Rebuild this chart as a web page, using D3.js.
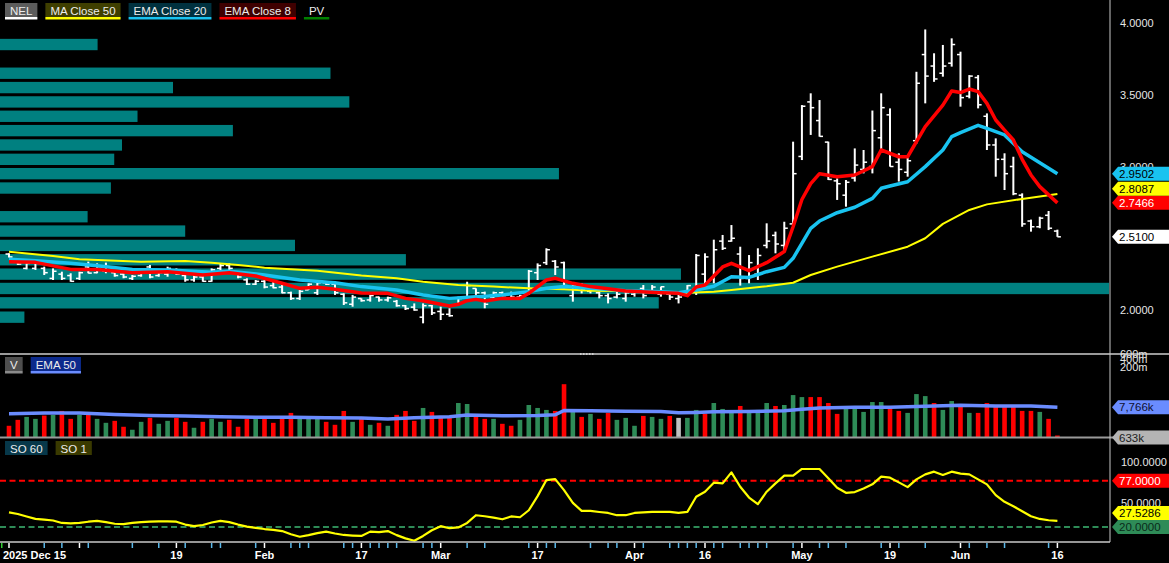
<!DOCTYPE html>
<html>
<head>
<meta charset="utf-8">
<script src="https://cdn.jsdelivr.net/npm/d3@7"></script>
<style>
  html, body { margin: 0; padding: 0; background: #000; }
  svg { display: block; font-family: "Liberation Sans", Arial, sans-serif; }
  .pre { white-space: pre; }
</style>
</head>
<body>
<div id="chart"></div>
<script>
/* DATA (one entry per session, index 0 = 2025 Dec 15) */
const opens = [2.39,2.34,2.29,2.29,2.29,2.22,2.25,2.24,2.22,2.30,
  2.26,2.27,2.26,2.25,2.22,2.24,2.30,2.24,2.25,2.28,
  2.24,2.21,2.23,2.20,2.29,2.31,2.25,2.21,2.18,2.20,
  2.17,2.16,2.12,2.08,2.14,2.12,2.19,2.18,2.11,2.04,
  2.08,2.07,2.09,2.07,2.06,2.03,2.02,1.95,2.03,1.99,
  1.97,2.04,2.09,2.15,2.12,2.09,2.12,2.11,2.09,2.11,
  2.26,2.33,2.34,2.33,2.10,2.17,2.13,2.12,2.10,2.09,
  2.08,2.11,2.15,2.12,2.11,2.11,2.08,2.11,2.15,2.25,
  2.22,2.48,2.48,2.39,2.22,2.25,2.45,2.52,2.45,2.60,
  3.07,3.45,3.32,3.17,2.90,2.80,2.92,2.98,3.00,3.20,
  3.36,3.03,2.96,3.18,3.78,3.70,3.65,3.72,3.78,3.49,
  3.62,3.35,3.15,3.05,3.00,2.80,2.62,2.58,2.66,2.55]
const highs = [2.395,2.348,2.325,2.337,2.302,2.290,2.267,2.256,2.267,2.337,
  2.325,2.330,2.267,2.256,2.244,2.267,2.314,2.267,2.302,2.290,
  2.244,2.244,2.244,2.290,2.325,2.325,2.256,2.221,2.209,2.209,
  2.197,2.174,2.128,2.139,2.186,2.209,2.197,2.197,2.116,2.105,
  2.081,2.105,2.093,2.093,2.070,2.035,2.046,2.046,2.035,2.023,
  2.012,2.093,2.197,2.151,2.128,2.128,2.128,2.128,2.105,2.279,
  2.325,2.430,2.348,2.337,2.180,2.186,2.163,2.128,2.116,2.128,
  2.128,2.139,2.174,2.174,2.163,2.116,2.105,2.174,2.390,2.395,
  2.490,2.523,2.592,2.441,2.383,2.430,2.604,2.546,2.615,3.173,
  3.428,3.510,3.463,3.173,2.917,2.906,3.126,3.115,3.390,3.510,
  3.405,3.092,3.068,3.660,3.955,3.789,3.847,3.893,3.800,3.637,
  3.637,3.370,3.196,3.092,3.068,2.813,2.630,2.650,2.690,2.560]
const lows = [2.365,2.314,2.283,2.279,2.244,2.209,2.209,2.197,2.209,2.256,
  2.256,2.256,2.232,2.221,2.209,2.232,2.221,2.232,2.232,2.244,
  2.197,2.197,2.197,2.197,2.279,2.279,2.221,2.174,2.174,2.151,
  2.151,2.116,2.070,2.070,2.139,2.105,2.174,2.105,2.035,2.023,
  2.058,2.058,2.058,2.058,2.023,2.000,1.995,1.907,1.965,1.930,
  1.953,2.035,2.081,2.105,2.012,2.081,2.093,2.081,2.081,2.105,
  2.209,2.314,2.244,2.151,2.058,2.116,2.116,2.081,2.046,2.081,
  2.058,2.093,2.081,2.116,2.093,2.070,2.046,2.105,2.105,2.160,
  2.186,2.418,2.476,2.170,2.186,2.209,2.430,2.395,2.418,2.580,
  3.045,3.220,3.208,2.906,2.767,2.720,2.895,2.952,2.952,3.115,
  2.999,2.895,2.929,3.160,3.440,3.590,3.626,3.696,3.417,3.475,
  3.405,3.115,2.929,2.836,2.800,2.580,2.546,2.570,2.557,2.510]
const closes = [2.37,2.32,2.325,2.33,2.26,2.27,2.22,2.20,2.26,2.257,
  2.29,2.30,2.24,2.23,2.235,2.26,2.23,2.26,2.29,2.25,
  2.21,2.23,2.20,2.28,2.31,2.29,2.23,2.18,2.20,2.16,
  2.155,2.12,2.08,2.13,2.18,2.19,2.18,2.12,2.05,2.09,
  2.065,2.10,2.07,2.085,2.03,2.01,2.00,2.03,1.98,1.97,
  1.96,2.08,2.17,2.12,2.04,2.12,2.10,2.09,2.10,2.27,
  2.31,2.42,2.30,2.17,2.175,2.14,2.15,2.10,2.08,2.11,
  2.12,2.13,2.10,2.16,2.162,2.09,2.09,2.17,2.38,2.37,
  2.42,2.43,2.50,2.22,2.33,2.38,2.48,2.46,2.57,2.95,
  3.42,3.41,3.21,2.91,2.88,2.89,3.01,3.03,3.25,3.41,
  3.00,2.98,3.04,3.58,3.63,3.61,3.70,3.85,3.48,3.63,
  3.43,3.15,3.05,2.95,2.81,2.60,2.58,2.64,2.57,2.51]

// volume, millions of shares
const volumes = [3.09,4.59,5.34,4.84,5.68,5.85,6.85,4.84,5.85,5.85,
  4.84,3.84,4.34,2.84,2.09,4.09,5.09,3.59,4.34,5.09,
  4.09,2.59,4.09,4.84,4.09,4.59,2.84,4.84,5.09,5.09,
  3.84,4.84,6.35,4.84,4.84,4.84,4.09,3.34,6.85,4.09,
  4.84,3.34,3.84,3.09,5.85,6.85,4.34,7.60,6.60,5.09,
  5.09,8.85,8.60,5.34,4.84,4.84,3.59,3.09,4.59,8.35,
  7.60,7.10,6.85,13.61,6.68,5.34,6.10,4.84,6.35,4.59,
  5.09,3.09,5.59,5.34,4.84,5.59,5.09,5.09,7.10,6.10,
  8.85,7.35,6.35,8.10,6.35,7.10,8.85,8.10,8.35,10.86,
  10.35,10.35,10.35,8.85,6.10,7.60,7.60,6.60,9.10,9.10,
  7.60,6.85,6.35,11.11,10.60,8.85,7.10,9.35,8.10,6.35,
  6.35,8.85,8.10,8.10,8.10,6.85,6.85,6.60,4.84,0.633]

// stochastic oscillator
const soValues = [38,36,33,30,29,28,25,24.5,25,26.5,
  27.5,26,24,23.5,25,26,26.5,27,27,26.5,
  23,21,22.5,25.5,27.5,26,23,20.4,19,17.5,
  16.5,15,11,8,10,12.5,14.3,12,10.2,9.5,
  9,14.3,13.8,15,10,6,3,9,16,21,
  18.5,19.5,25,34.5,33.2,31.5,29.5,33,32,40.6,
  58,77.8,79,65.4,49.7,39.8,39.8,38.5,37.3,34.5,
  34.5,37.3,38,38.6,38.6,38.6,37.3,38.6,57.2,63.4,
  74.5,73.7,87.3,69.6,56.3,48.1,63.4,73.7,83.2,83.2,
  91.4,91.4,91.4,79.9,68.3,62.1,63,67.5,72.5,82,
  80.7,74.9,69.1,78.6,84.8,88.1,84,88.1,85.7,84.8,
  78.6,72.5,59.2,51,45.6,39.4,33.2,29.9,28.3,27.5286]

// moving averages at these sessions
const ma50Idx = [0,5,8,15,20,23,26,29,35,40,44,47,51,55,59,63,66,70,74,77,80,82,86,89,91,94,98,102,104,106,109,111,115,119]
const ma50Val = [2.406,2.376,2.353,2.337,2.341,2.330,2.314,2.295,2.274,2.240,2.221,2.197,2.174,2.163,2.151,2.144,2.135,2.132,2.128,2.120,2.128,2.139,2.165,2.19,2.244,2.302,2.372,2.441,2.50,2.60,2.697,2.736,2.774,2.8087]
const ema20Idx = [0,3,7,10,14,18,23,25,29,33,37,40,44,47,50,53,56,59,61,63,66,70,74,76,78,80,82,84,86,88,89,90,91,92,94,96,98,99,100,102,104,106,107,108,110,111,113,115,119]
const ema20Val = [2.353,2.344,2.325,2.309,2.283,2.279,2.263,2.27,2.244,2.209,2.19,2.163,2.139,2.105,2.081,2.093,2.105,2.128,2.151,2.163,2.151,2.135,2.128,2.121,2.139,2.165,2.232,2.227,2.267,2.297,2.36,2.465,2.569,2.62,2.678,2.716,2.778,2.848,2.864,2.894,2.999,3.115,3.208,3.236,3.287,3.266,3.22,3.103,2.9502]
const ema8Idx = [0,3,7,10,14,18,22,25,28,31,33,35,37,40,43,45,47,50,51,52,53,54,56,58,59,61,62,64,66,70,74,76,77,78,79,81,82,84,86,88,89,90,91,92,94,96,98,99,101,102,104,106,107,108,109,110,111,112,113,114,115,116,117,119]
const ema8Val = [2.337,2.332,2.283,2.283,2.26,2.267,2.244,2.26,2.237,2.186,2.151,2.158,2.144,2.118,2.116,2.081,2.065,2.028,2.04,2.065,2.074,2.063,2.081,2.081,2.116,2.209,2.221,2.186,2.163,2.132,2.121,2.116,2.10,2.16,2.174,2.30,2.325,2.274,2.33,2.407,2.58,2.77,2.88,2.95,2.929,2.941,2.999,3.115,3.068,3.068,3.278,3.428,3.526,3.515,3.54,3.522,3.44,3.324,3.254,3.185,3.05,2.941,2.86,2.7466]
const volEmaIdx = [0,4,8,12,16,20,24,28,32,36,40,43,46,50,52,56,60,62,63,66,70,74,76,78,80,84,88,90,92,96,100,104,108,112,116,119]
const volEmaVal = [6.13,6.30,6.30,5.97,5.72,5.56,5.40,5.23,5.23,5.15,5.07,4.82,5.15,5.40,5.80,5.64,5.72,5.89,6.95,6.87,6.79,6.70,6.38,6.46,6.62,6.70,6.87,7.28,7.60,7.77,7.77,8.01,8.26,8.09,8.09,7.766]

// price-volume histogram, 0.1 wide bins (relative volume, max = 100)
const pvStep = 0.1
const pvLow = [1.9,2.0,2.1,2.2,2.3,2.4,2.5,2.6,2.7,2.8,2.9,3.0,3.1,3.2,3.3,3.4,3.5,3.6,3.7,3.8]
const pvVol = [2.2,59.4,100,61.4,36.6,26.6,16.7,7.9,0,10.0,50.4,10.3,11.0,21.0,12.4,31.5,15.6,29.8,0,8.8]

// axes
const priceTicks = [2, 2.5, 3, 3.5, 4]
const soTicks = [50, 100]
const soLevels = [77, 20]
const volTicks = [600, 400, 200]
const majorTicks = [0,8,19,29,40,49,60,71,79,90,100,108,119]
const minorTicks = [4,6,9,14,17,20,23,24,28,32,33,34,38,39,41,42,43,44,47,48,52,54,59,61,62,66,68,69,72,75,76,77,78,80,81,83,84,85,86,89,92,93,95,99,101,104,109,111,113,118]
const dateLabelIdx = [0,19,29,40,49,60,71,79,90,100,108,119]
const dateLabels = ["2025 Dec 15","19","Feb","17","Mar","17","Apr","16","May","19","Jun","16"]

// legends
const priceLegend = ["NEL", "MA Close 50", "EMA Close 20", "EMA Close 8", "PV"]
const volLegend = ["V", "EMA 50"]
const soLegend = ["SO 60", "SO 1"]

/* CONSTANTS */
const width = 1169
const height = 563
const plotRight = 1110
const colors = { ma50: "#ffff00", ema20: "#19c3f0", ema8: "#ff0000", up: "#2e8b57", down: "#ff0000", flat: "#c0c0c0", volEma: "#6a8cff", pv: "#008080" }

/* SCALES */
const xScale = d3.scaleLinear().domain([0, closes.length - 1]).range([9, 1057.4])
const yPrice = d3.scaleLinear().domain([2, 4]).range([310, 23])
const yVol = d3.scaleLinear().domain([0, 7.766]).range([438, 407.3])
const yVolLbl = d3.scaleLog().domain([200, 600]).range([367, 354])
const ySO = d3.scaleLinear().domain([20, 100]).range([527, 462])
const xPV = d3.scaleLinear().domain([0, 100]).range([0, 1109])

const svg = d3.select("#chart").append("svg")
  .attr("width", width)
  .attr("height", height)

svg.append("rect").attr("width", width).attr("height", height).attr("fill", "#000")

svg.append("clipPath").attr("id", "pricePanel")
  .append("rect").attr("x", 0).attr("y", 0).attr("width", plotRight).attr("height", 353)

/* PRICE PANEL */
const pricePanel = svg.append("g").attr("clip-path", "url(#pricePanel)")

const pvData = pvLow.map((lo, i) => ({ lo, v: pvVol[i] })).filter(d => d.v > 0)
pricePanel.append("g").selectAll("rect")
  .data(pvData)
  .join("rect")
    .attr("x", 0)
    .attr("y", d => yPrice(d.lo + pvStep) + 1.5)
    .attr("width", d => xPV(d.v))
    .attr("height", d => yPrice(d.lo) - yPrice(d.lo + pvStep) - 3)
    .attr("fill", colors.pv)

const bars = closes.map((c, i) => ({ i, o: opens[i], h: highs[i], l: lows[i], c }))
const ohlc = pricePanel.append("g").attr("stroke", "#fff")
ohlc.selectAll(".hl").data(bars).join("line")
  .attr("x1", d => xScale(d.i)).attr("x2", d => xScale(d.i))
  .attr("y1", d => yPrice(d.h)).attr("y2", d => yPrice(d.l))
  .attr("stroke-width", 2)
ohlc.selectAll(".op").data(bars).join("line")
  .attr("x1", d => xScale(d.i) - 3.5).attr("x2", d => xScale(d.i))
  .attr("y1", d => yPrice(d.o)).attr("y2", d => yPrice(d.o))
  .attr("stroke-width", 1.5)
ohlc.selectAll(".cl").data(bars).join("line")
  .attr("x1", d => xScale(d.i)).attr("x2", d => xScale(d.i) + 3.5)
  .attr("y1", d => yPrice(d.c)).attr("y2", d => yPrice(d.c))
  .attr("stroke-width", 1.5)

const priceLine = d3.line().x(d => xScale(d[0])).y(d => yPrice(d[1]))
const maSeries = [
  { pts: ma50Idx.map((d, i) => [d, ma50Val[i]]), color: colors.ma50, w: 2 },
  { pts: ema20Idx.map((d, i) => [d, ema20Val[i]]), color: colors.ema20, w: 3.5 },
  { pts: ema8Idx.map((d, i) => [d, ema8Val[i]]), color: colors.ema8, w: 3.5 }
]
pricePanel.selectAll(".ma").data(maSeries).join("path")
  .attr("d", d => priceLine(d.pts))
  .attr("fill", "none")
  .attr("stroke", d => d.color)
  .attr("stroke-width", d => d.w)
  .attr("stroke-linejoin", "round")

/* VOLUME PANEL */
svg.append("g").selectAll("rect")
  .data(volumes)
  .join("rect")
    .attr("x", (d, i) => xScale(i) - 2.3)
    .attr("y", d => yVol(d))
    .attr("width", 4.6)
    .attr("height", d => yVol(0) - yVol(d))
    .attr("fill", (d, i) => i === 0 || closes[i] < closes[i - 1] ? colors.down : closes[i] > closes[i - 1] ? colors.up : colors.flat)

const volLine = d3.line().x(d => xScale(d[0])).y(d => yVol(d[1]))
svg.append("path")
  .attr("d", volLine(volEmaIdx.map((d, i) => [d, volEmaVal[i]])))
  .attr("fill", "none")
  .attr("stroke", colors.volEma)
  .attr("stroke-width", 3.5)

/* SO PANEL */
svg.append("g").selectAll("line")
  .data(soLevels)
  .join("line")
    .attr("x1", 0).attr("x2", plotRight)
    .attr("y1", d => ySO(d)).attr("y2", d => ySO(d))
    .attr("stroke", d => d > 50 ? "#ff0000" : colors.up)
    .attr("stroke-width", 2)
    .attr("stroke-dasharray", "6,3.5")

const soLine = d3.line().x((d, i) => xScale(i)).y(d => ySO(d))
svg.append("path")
  .attr("d", soLine(soValues))
  .attr("fill", "none")
  .attr("stroke", colors.ma50)
  .attr("stroke-width", 2.2)
  .attr("stroke-linejoin", "round")

/* FRAME */
svg.append("line").attr("x1", 0).attr("x2", width).attr("y1", 354).attr("y2", 354).attr("stroke", "#9a9a9a").attr("stroke-width", 2)
svg.append("line").attr("x1", 0).attr("x2", width).attr("y1", 437.5).attr("y2", 437.5).attr("stroke", "#9a9a9a").attr("stroke-width", 2)
svg.append("line").attr("x1", 580).attr("x2", 594).attr("y1", 354).attr("y2", 354).attr("stroke", "#e0e0e0").attr("stroke-width", 1.5).attr("stroke-dasharray", "1.5,1.5")
svg.append("line").attr("x1", 0).attr("x2", plotRight).attr("y1", 542).attr("y2", 542).attr("stroke", "#c8c8c8").attr("stroke-width", 1.5)
svg.append("line").attr("x1", plotRight).attr("x2", plotRight).attr("y1", 0).attr("y2", 542).attr("stroke", "#c8c8c8").attr("stroke-width", 1)

/* RIGHT AXES */
function styleAxis(g) {
  g.select(".domain").remove()
  g.selectAll("text").attr("fill", "#e6e6e6").style("font-size", "11px").style("font-family", "Liberation Sans, Arial, sans-serif")
}
svg.append("g").attr("transform", `translate(${plotRight},0)`)
  .call(d3.axisRight(yPrice).tickValues(priceTicks).tickFormat(d3.format(".4f")).tickSize(0).tickPadding(10))
  .call(styleAxis)
svg.append("g").attr("transform", `translate(${plotRight},0)`)
  .call(d3.axisRight(yVolLbl).tickValues(volTicks).tickFormat(d => d + "m").tickSize(0).tickPadding(10))
  .call(styleAxis)
svg.append("g").attr("transform", `translate(${plotRight},0)`)
  .call(d3.axisRight(ySO).tickValues(soTicks).tickFormat(d3.format(".4f")).tickSize(0).tickPadding(11))
  .call(styleAxis)

/* VALUE TAGS */
function drawTags(tags) {
  tags.sort((a, b) => b.y - a.y)
  let prev = Infinity
  tags.forEach(t => { t.y = Math.min(t.y, prev - 14); prev = t.y })
  const g = svg.append("g").selectAll("g")
    .data(tags)
    .join("g")
      .attr("transform", d => `translate(${plotRight + 2},${d.y})`)
  g.append("path").attr("d", "M0,0L6,-7H60V7H6Z").attr("fill", d => d.fill)
  g.append("text")
    .attr("x", 7).attr("dy", "0.36em")
    .attr("fill", d => d.color)
    .style("font-size", "11.5px")
    .text(d => d.text)
}
const last = arr => arr[arr.length - 1]
const f4 = d3.format(".4f")
const fk = v => d3.format(",")(Math.round(v * 1000)) + "k"
drawTags([
  { y: yPrice(last(ema20Val)), text: f4(last(ema20Val)), fill: colors.ema20, color: "#000" },
  { y: yPrice(last(ma50Val)), text: f4(last(ma50Val)), fill: colors.ma50, color: "#000" },
  { y: yPrice(last(ema8Val)), text: f4(last(ema8Val)), fill: colors.ema8, color: "#fff" },
  { y: yPrice(last(closes)), text: f4(last(closes)), fill: "#fff", color: "#000" }
])
drawTags([
  { y: yVol(last(volEmaVal)), text: fk(last(volEmaVal)), fill: colors.volEma, color: "#101030" },
  { y: yVol(last(volumes)) + 2, text: fk(last(volumes)), fill: "#b4b4b4", color: "#202020" }
])
drawTags([
  { y: ySO(soLevels[0]), text: f4(soLevels[0]), fill: "#ff0000", color: "#fff" },
  { y: ySO(last(soValues)), text: f4(last(soValues)), fill: colors.ma50, color: "#000" },
  { y: ySO(soLevels[1]), text: f4(soLevels[1]), fill: colors.up, color: "#0a2a1a" }
])

/* BOTTOM AXIS */
const xAxisG = svg.append("g")
xAxisG.selectAll(".minor").data(minorTicks).join("line")
  .attr("x1", d => xScale(d)).attr("x2", d => xScale(d))
  .attr("y1", 543).attr("y2", 548)
  .attr("stroke", "#5ab8ea").attr("stroke-width", 1.5)
xAxisG.selectAll(".major").data(majorTicks).join("line")
  .attr("x1", d => xScale(d)).attr("x2", d => xScale(d))
  .attr("y1", 543).attr("y2", 548)
  .attr("stroke", "#fff").attr("stroke-width", 1.5)
xAxisG.append("rect").attr("x", 1).attr("y", 543).attr("width", 1.5).attr("height", 5).attr("fill", "#3c3")
xAxisG.selectAll("text").data(dateLabelIdx).join("text")
  .attr("x", (d, i) => i === 0 ? 3 : xScale(d))
  .attr("y", 559)
  .attr("text-anchor", (d, i) => i === 0 ? "start" : "middle")
  .attr("fill", "#fff")
  .style("font-size", "11px")
  .style("font-weight", "bold")
  .text((d, i) => dateLabels[i])

/* LEGENDS */
function drawLegend(y, labels, fills, lines) {
  const g = svg.append("g")
  let x = 5
  labels.forEach((lab, i) => {
    const t = g.append("text")
      .attr("class", "pre")
      .attr("x", x + 5).attr("y", y + 11.5)
      .attr("fill", "#ececec")
      .style("font-size", "11.5px")
      .text(lab)
    const w = t.node().getComputedTextLength() + 10
    if (fills[i] !== "none") g.insert("rect", "text").attr("x", x).attr("y", y).attr("width", w).attr("height", 14).attr("fill", fills[i])
    if (lines[i] !== "none") g.append("rect").attr("x", x).attr("y", y + 14).attr("width", w).attr("height", 2.5).attr("fill", lines[i])
    x += w + 8
  })
}
drawLegend(3, priceLegend, ["#5c5c5c", "#3f3f00", "#00313f", "#3f0000", "none"], ["#fff", colors.ma50, colors.ema20, colors.ema8, "#008000"])
drawLegend(357, volLegend, ["#4e4e4e", "#0c2a8c"], ["#8a8a8a", colors.volEma])
drawLegend(441, soLegend, ["#07384a", "#3a3a00"], ["none", "none"])
</script>
</body>
</html>
